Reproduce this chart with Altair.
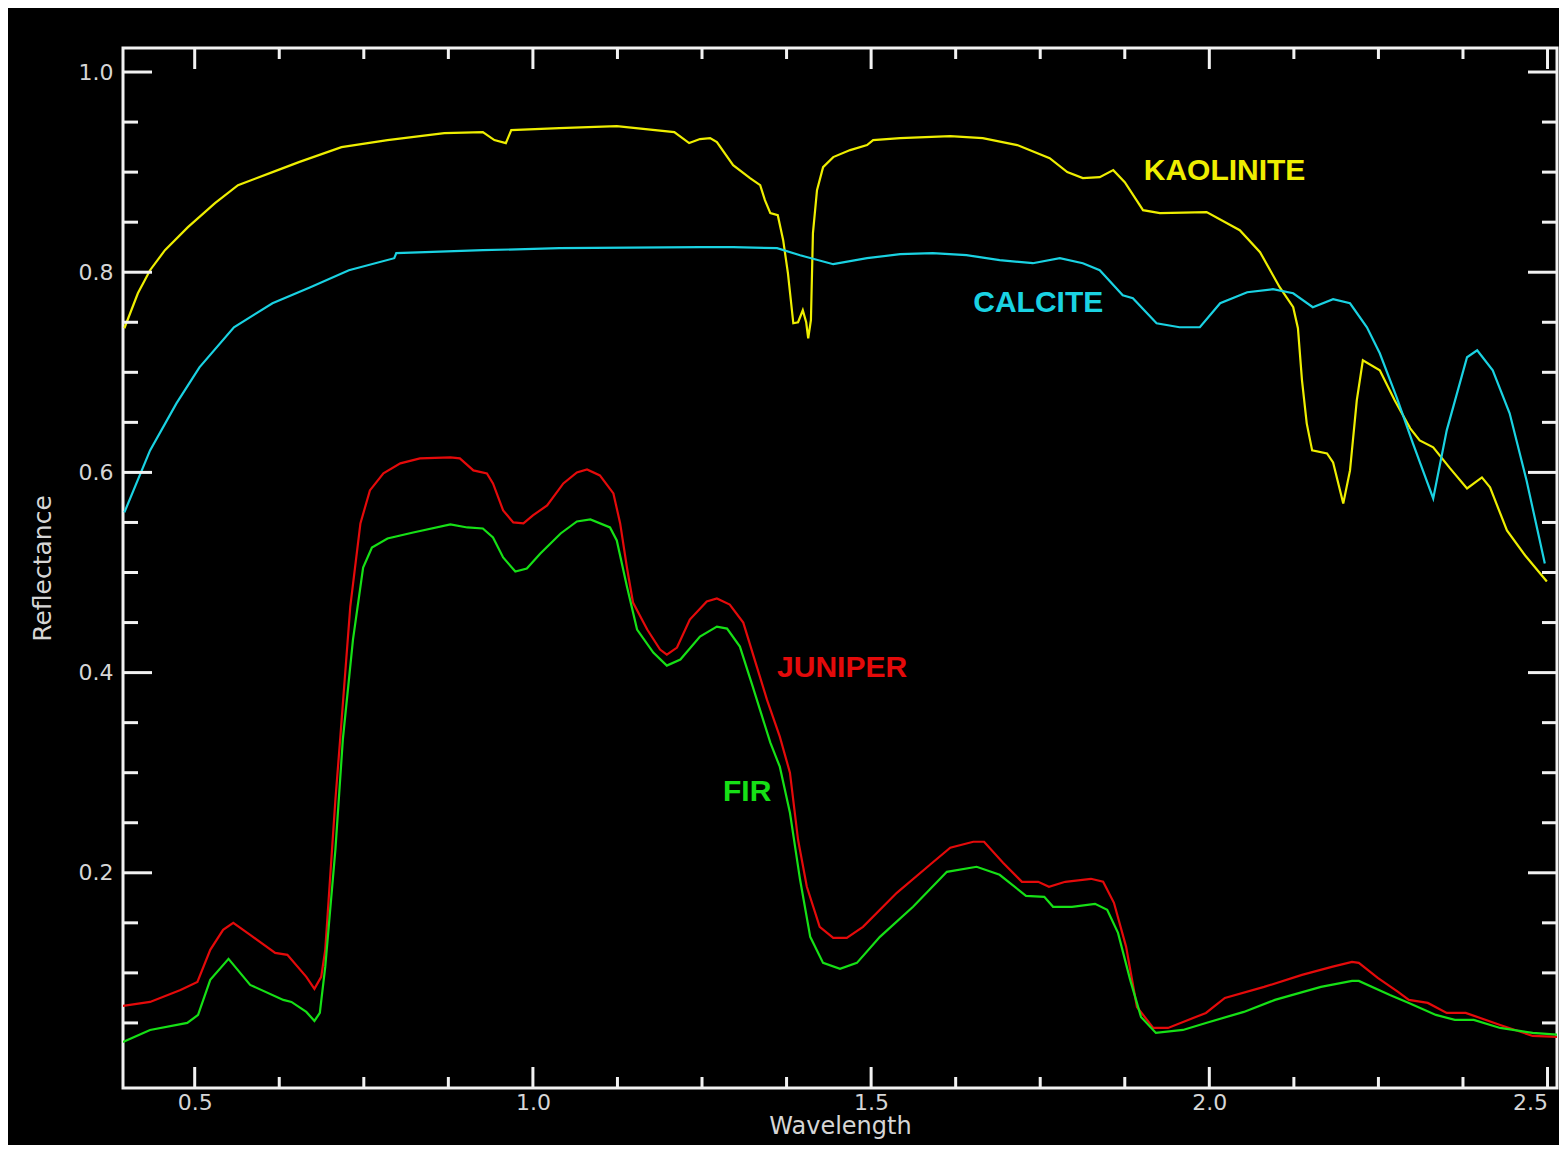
import altair as alt
import pandas as pd

# ---------------- data ----------------
KAO_WL = [0.396,0.416,0.434,0.456,0.490,0.530,0.564,0.615,0.654,0.717,0.785,0.869,0.926,0.943,0.960,0.968,1.039,1.124,1.209,1.231,1.247,1.262,1.272,1.296,1.321,1.336,1.343,1.351,1.362,1.370,1.377,1.385,1.392,1.399,1.404,1.407,1.411,1.414,1.420,1.429,1.444,1.469,1.494,1.503,1.543,1.617,1.665,1.716,1.764,1.790,1.813,1.838,1.858,1.875,1.902,1.927,1.996,2.045,2.075,2.104,2.124,2.131,2.137,2.144,2.152,2.174,2.183,2.198,2.208,2.218,2.227,2.252,2.274,2.297,2.311,2.331,2.356,2.381,2.403,2.415,2.440,2.467,2.499]
KAO_R = [0.744,0.779,0.802,0.822,0.845,0.869,0.887,0.900,0.910,0.925,0.932,0.939,0.940,0.932,0.929,0.942,0.944,0.946,0.940,0.929,0.933,0.934,0.930,0.907,0.894,0.887,0.872,0.859,0.857,0.832,0.799,0.749,0.750,0.762,0.750,0.734,0.752,0.839,0.882,0.905,0.915,0.922,0.927,0.932,0.934,0.936,0.934,0.927,0.914,0.900,0.894,0.895,0.902,0.890,0.862,0.859,0.860,0.842,0.820,0.785,0.765,0.744,0.692,0.649,0.622,0.619,0.610,0.569,0.602,0.672,0.712,0.702,0.672,0.644,0.632,0.625,0.604,0.584,0.595,0.585,0.542,0.517,0.491]

CAL_WL = [0.396,0.434,0.473,0.507,0.558,0.615,0.671,0.728,0.795,0.798,0.841,0.926,1.039,1.247,1.296,1.361,1.395,1.444,1.494,1.543,1.591,1.641,1.690,1.739,1.779,1.813,1.838,1.872,1.887,1.922,1.956,1.986,2.016,2.056,2.094,2.124,2.153,2.183,2.208,2.233,2.252,2.277,2.301,2.331,2.351,2.381,2.396,2.419,2.444,2.469,2.496]
CAL_R = [0.560,0.622,0.669,0.705,0.745,0.769,0.785,0.802,0.814,0.819,0.820,0.822,0.824,0.825,0.825,0.824,0.817,0.808,0.814,0.818,0.819,0.817,0.812,0.809,0.814,0.809,0.802,0.777,0.774,0.749,0.745,0.745,0.769,0.780,0.783,0.779,0.765,0.773,0.769,0.745,0.719,0.675,0.629,0.574,0.642,0.715,0.722,0.702,0.659,0.592,0.509]

JUN_WL = [0.394,0.434,0.479,0.504,0.523,0.542,0.557,0.582,0.619,0.637,0.665,0.677,0.687,0.693,0.700,0.708,0.715,0.730,0.745,0.759,0.779,0.804,0.833,0.878,0.892,0.912,0.932,0.941,0.956,0.971,0.986,1.000,1.021,1.045,1.065,1.080,1.099,1.119,1.129,1.139,1.148,1.169,1.188,1.198,1.213,1.232,1.257,1.272,1.291,1.311,1.331,1.346,1.365,1.380,1.392,1.405,1.424,1.444,1.464,1.488,1.538,1.587,1.617,1.651,1.667,1.695,1.723,1.747,1.763,1.787,1.825,1.843,1.859,1.877,1.893,1.917,1.939,1.995,2.023,2.081,2.137,2.181,2.211,2.221,2.249,2.279,2.295,2.323,2.351,2.379,2.430,2.478,2.520]
JUN_R = [0.067,0.071,0.083,0.091,0.123,0.143,0.150,0.138,0.120,0.118,0.096,0.084,0.096,0.123,0.193,0.273,0.333,0.466,0.549,0.582,0.599,0.609,0.614,0.615,0.614,0.602,0.599,0.589,0.562,0.550,0.549,0.557,0.567,0.589,0.600,0.603,0.597,0.579,0.549,0.505,0.470,0.443,0.423,0.418,0.425,0.453,0.471,0.474,0.468,0.450,0.406,0.373,0.336,0.300,0.233,0.186,0.146,0.135,0.135,0.146,0.180,0.208,0.225,0.231,0.231,0.210,0.191,0.191,0.186,0.191,0.194,0.191,0.170,0.126,0.066,0.045,0.045,0.060,0.075,0.086,0.098,0.106,0.111,0.110,0.095,0.081,0.073,0.070,0.060,0.060,0.048,0.037,0.036]

FIR_WL = [0.394,0.434,0.489,0.505,0.523,0.550,0.582,0.631,0.643,0.665,0.677,0.685,0.693,0.708,0.719,0.734,0.749,0.762,0.785,0.823,0.878,0.903,0.926,0.941,0.956,0.974,0.991,1.011,1.041,1.065,1.085,1.114,1.124,1.139,1.154,1.178,1.198,1.218,1.247,1.272,1.287,1.306,1.325,1.351,1.365,1.380,1.395,1.410,1.429,1.454,1.479,1.513,1.562,1.612,1.656,1.690,1.729,1.756,1.769,1.797,1.831,1.849,1.865,1.883,1.899,1.921,1.961,1.995,2.051,2.097,2.165,2.211,2.221,2.267,2.295,2.335,2.363,2.391,2.430,2.478,2.520]
FIR_R = [0.031,0.043,0.050,0.058,0.093,0.114,0.088,0.073,0.071,0.061,0.052,0.060,0.106,0.223,0.333,0.433,0.505,0.525,0.534,0.540,0.548,0.545,0.544,0.535,0.515,0.501,0.504,0.519,0.539,0.551,0.553,0.545,0.532,0.486,0.443,0.420,0.407,0.413,0.436,0.446,0.444,0.426,0.386,0.330,0.306,0.260,0.193,0.136,0.110,0.104,0.110,0.136,0.166,0.201,0.206,0.198,0.177,0.176,0.166,0.166,0.169,0.163,0.140,0.093,0.056,0.040,0.043,0.050,0.061,0.073,0.086,0.092,0.092,0.078,0.070,0.058,0.053,0.053,0.045,0.040,0.038]

SERIES = ["KAOLINITE", "CALCITE", "JUNIPER", "FIR"]
COLORS = ["#eeee00", "#1ad2e2", "#e40a0a", "#16e016"]

LABEL_WL = [1.903, 1.651, 1.361, 1.281]
LABEL_R = [0.892, 0.760, 0.396, 0.272]

X_MAJOR = [0.5, 1.0, 1.5, 2.0, 2.5]
X_MINOR = [0.625, 0.75, 0.875, 1.125, 1.25, 1.375, 1.625, 1.75, 1.875, 2.125, 2.25, 2.375]
Y_MAJOR = [0.2, 0.4, 0.6, 0.8, 1.0]
Y_MINOR = [0.05, 0.1, 0.15, 0.25, 0.3, 0.35, 0.45, 0.5, 0.55, 0.65, 0.7, 0.75, 0.85, 0.9, 0.95]

# ---------------- tables ----------------
rows = []
for name, wls, rs in zip(SERIES, [KAO_WL, CAL_WL, JUN_WL, FIR_WL], [KAO_R, CAL_R, JUN_R, FIR_R]):
    for i, (w, r) in enumerate(zip(wls, rs)):
        rows.append({"series": name, "wl": w, "refl": r, "i": i})
curves = pd.DataFrame(rows)
labels = pd.DataFrame({"series": SERIES, "wl": LABEL_WL, "refl": LABEL_R})
xmaj = pd.DataFrame({"wl": X_MAJOR})
xmin = pd.DataFrame({"wl": X_MINOR})
ymaj = pd.DataFrame({"refl": Y_MAJOR})
ymin = pd.DataFrame({"refl": Y_MINOR})

W, H = 1434, 1040
AXC = "#f2f2f2"
TXT = "#d6d6d6"

xscale = alt.Scale(domain=[0.394, 2.514], nice=False, zero=False)
yscale = alt.Scale(domain=[-0.015, 1.024], nice=False, zero=False)
cscale = alt.Scale(domain=SERIES, range=COLORS)

xaxis = alt.Axis(values=X_MAJOR, format=".1f", ticks=False, tickSize=0, domain=False, grid=False,
                 labelFont="DejaVu Sans", labelFontSize=22, labelColor=TXT, labelPadding=4,
                 labelFlush=15, labelOverlap=False,
                 title="Wavelength", titleFont="DejaVu Sans", titleFontSize=24,
                 titleFontWeight="normal", titleColor=TXT, titleY=45, titleBaseline="alphabetic")
yaxis = alt.Axis(values=Y_MAJOR, format=".1f", ticks=False, tickSize=0, domain=False, grid=False,
                 labelFont="DejaVu Sans", labelFontSize=22, labelColor=TXT, labelPadding=10,
                 labelFlush=False, labelOverlap=False,
                 title="Reflectance", titleFont="DejaVu Sans", titleFontSize=25,
                 titleFontWeight="normal", titleColor=TXT, titleX=-81, titleY=H / 2,
                 titleAngle=-90, titleBaseline="middle", titleAlign="center")

lines = alt.Chart(curves).mark_line(strokeWidth=2.2, clip=True).encode(
    x=alt.X("wl:Q", scale=xscale, axis=xaxis),
    y=alt.Y("refl:Q", scale=yscale, axis=yaxis),
    color=alt.Color("series:N", scale=cscale, legend=None),
    order=alt.Order("i:Q"),
)

text = alt.Chart(labels).mark_text(align="left", baseline="alphabetic", font="Liberation Sans",
                                   fontSize=30, fontWeight="bold").encode(
    x=alt.X("wl:Q", scale=xscale),
    y=alt.Y("refl:Q", scale=yscale),
    text="series:N",
    color=alt.Color("series:N", scale=cscale, legend=None),
)

def xticks(df, length):
    bot = alt.Chart(df).mark_rule(color=AXC, strokeWidth=3).encode(
        x=alt.X("wl:Q", scale=xscale), y=alt.value(H), y2=alt.value(H - length))
    top = alt.Chart(df).mark_rule(color=AXC, strokeWidth=3).encode(
        x=alt.X("wl:Q", scale=xscale), y=alt.value(0), y2=alt.value(length))
    return [bot, top]

def yticks(df, length):
    left = alt.Chart(df).mark_rule(color=AXC, strokeWidth=3).encode(
        y=alt.Y("refl:Q", scale=yscale), x=alt.value(0), x2=alt.value(length))
    right = alt.Chart(df).mark_rule(color=AXC, strokeWidth=3).encode(
        y=alt.Y("refl:Q", scale=yscale), x=alt.value(W), x2=alt.value(W - length))
    return [left, right]

layers = [lines, text] + xticks(xmaj, 21) + xticks(xmin, 11) + yticks(ymaj, 29) + yticks(ymin, 15)

chart = alt.layer(*layers).properties(
    width=W, height=H,
    background="black",
    padding={"left": 115, "top": 40, "right": 2, "bottom": 57},
    autosize=alt.AutoSizeParams(type="none"),
).configure_view(stroke=AXC, strokeWidth=3)

chart.save("out.html", embed_options={"renderer": "svg", "actions": False})
